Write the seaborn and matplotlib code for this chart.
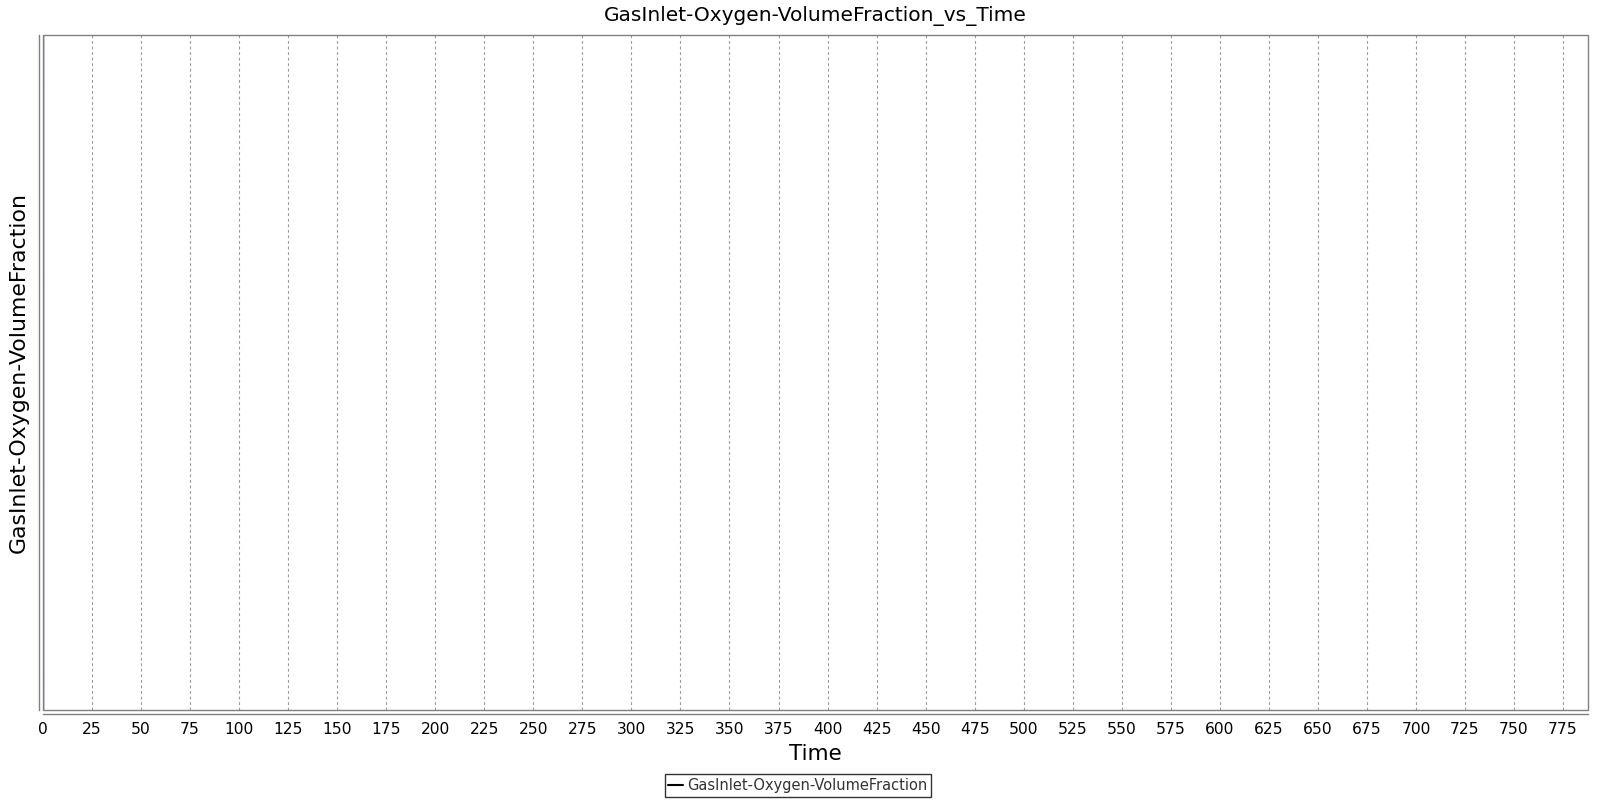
import matplotlib
matplotlib.use('Agg')
import matplotlib.pyplot as plt
from matplotlib.patches import Rectangle
import pandas as pd
import seaborn as sns

# Data: every sample sits at time 0
time = [0.0, 0.0]
volume_fraction = [0.0, 1.0]
series_name = 'GasInlet-Oxygen-VolumeFraction'
x_ticks = [0, 25, 50, 75, 100, 125, 150, 175, 200, 225, 250, 275, 300, 325, 350,
           375, 400, 425, 450, 475, 500, 525, 550, 575, 600, 625, 650, 675, 700,
           725, 750, 775]

df = pd.DataFrame({'Time': time, series_name: volume_fraction})

sns.set_style('white')
plt.rcParams['font.family'] = ['DejaVu Sans']
plt.rcParams['text.color'] = 'black'
plt.rcParams['axes.labelcolor'] = 'black'
plt.rcParams['xtick.labelcolor'] = 'black'

fig = plt.figure(figsize=(16, 8), dpi=100)
ax = fig.add_axes([43 / 1600, 1 - 710 / 800, (1588 - 43) / 1600, (710 - 35) / 800])

# vertical dashed grid at each time tick
for t in x_ticks:
    ax.axvline(t, color='#9a9a9a', lw=0.8, ls=(0, (2.5, 2.5)), zorder=0)

sns.lineplot(data=df, x='Time', y=series_name, ax=ax, color='#1c1c5a',
             lw=1.0, label=series_name, sort=False, estimator=None)

ax.set_xlim(0, 787.7)
ax.set_ylim(0, 1)
ax.set_xticks(x_ticks)
ax.set_yticks([])
ax.tick_params(axis='x', direction='out', length=4, width=0.8, color='#808080',
               labelsize=11.2, pad=2, labelcolor='black')

# plot outline plus offset axis lines (JFreeChart look)
ax.add_patch(Rectangle((0, 0), 1, 1, transform=ax.transAxes, fill=False,
                       ec='#808080', lw=1.0, clip_on=False, zorder=5))
for side in ['top', 'right']:
    ax.spines[side].set_visible(False)
for side in ['left', 'bottom']:
    ax.spines[side].set_position(('outward', 3))
    ax.spines[side].set_color('#808080')
    ax.spines[side].set_linewidth(1.0)

ax.set_xlabel('Time', fontsize=15.5, labelpad=5, color='black')
ax.set_ylabel(series_name, fontsize=15.8, labelpad=7, color='black')
ax.set_title('GasInlet-Oxygen-VolumeFraction_vs_Time', fontsize=14.5, pad=10,
             color='black')

ax.get_legend().remove()
handles, labels = ax.get_legend_handles_labels()
leg = fig.legend(handles, labels, loc='center', bbox_to_anchor=(798 / 1600, 1 - 785.5 / 800),
                 fontsize=10.5, frameon=True, fancybox=False, handlelength=1.0,
                 handletextpad=0.3, borderpad=0.25, borderaxespad=0,
                 labelcolor='#333333')
leg.get_frame().set_edgecolor('black')
leg.get_frame().set_linewidth(1.0)
for line in leg.get_lines():
    line.set_color('black')
    line.set_linewidth(1.5)

fig.savefig('out.png', dpi=100)
